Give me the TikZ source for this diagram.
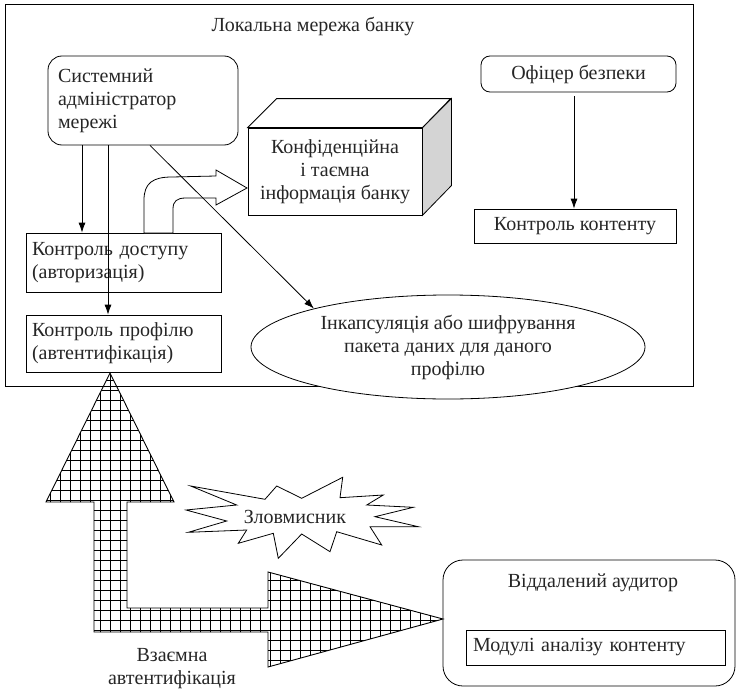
\documentclass[tikz,border=0pt]{standalone}
\usepackage{fontspec}
\setmainfont{Liberation Serif}
\usetikzlibrary{arrows.meta,shapes.geometric}
\begin{document}
\begin{tikzpicture}[x=1pt,y=-1pt,
  every node/.style={font=\fontsize{20}{23}\selectfont, inner sep=0pt, text=black!85},
  box/.style={draw, line width=0.8pt, rectangle},
  rbox/.style={box, rounded corners=14pt},
  arr/.style={line width=0.8pt, -{Latex[length=10pt,width=7pt]}},
  outline/.style={line width=0.8pt},
]
\useasboundingbox (0,0) rectangle (736,693);

% outer LAN box
\node[box, minimum width=688pt, minimum height=382pt] (lan) at (349,195) {};
\node (lantitle) at (313,27) {Локальна мережа банку};

% boxes
\node[rbox, minimum width=190pt, minimum height=89pt, text width=170pt, align=left] (sys) at (143,100.5) {Системний\\адміністратор\\мережі};
\node[rbox, rounded corners=9pt, minimum width=195pt, minimum height=36pt] (off) at (578.5,74) {Офіцер безпеки};
\node[box, minimum width=202pt, minimum height=34pt] (cont) at (575,226) {Контроль контенту};
\node[box, minimum width=195pt, minimum height=59pt, text width=183pt, align=left] (acc) at (123.5,262.5) {Контроль доступу\\(авторизація)};
\node[box, minimum width=195pt, minimum height=57pt, text width=183pt, align=left] (prof) at (123.5,343.5) {Контроль профілю\\(автентифікація)};

% cube
\node[box, minimum width=174pt, minimum height=87pt, align=center] (info) at (335,171.5) {Конфіденційна\\і таємна\\інформація банку};
\draw[outline, fill=black!17] (info.north east) -- ++(29,-29) -- ++(0,87) -- (info.south east) -- cycle;
\draw[outline, fill=white] (info.north west) -- ++(29,-29) -- ++(174,0) -- (info.north east) -- cycle;

% curved block arrow from access control to the info
\draw[outline, fill=white] (144,233) -- (144,200) .. controls (144,183) and (153,177) .. (172,177)
  -- (216,176) -- (216,170) -- (247,188) -- (216,205) -- (216,198) -- (186,198)
  .. controls (177,198) and (173,201) .. (173,209) -- (173,233) -- cycle;

% ellipse
\node[ellipse, draw, line width=0.8pt, fill=white, minimum width=394pt, minimum height=104pt, align=center] (enc) at (448,347) {Інкапсуляція або шифрування\\пакета даних для даного\\профілю};

% connectors
\draw[arr] (sys.south -| 82,0) -- (acc.north -| 82,0);
\draw[arr] (sys.south -| 108,0) -- (prof.north -| 108,0);
\draw[arr] (sys.south -| 150,0) -- (enc.164);
\draw[arr, shorten <=4pt] (off.south -| 574,0) -- (cont.north -| 574,0);

% big hatched double arrow
\begin{scope}
\clip (110,373) -- (174,502) -- (127,502) -- (127,608) -- (268,608) -- (268,572) -- (443,619)
  -- (268,667) -- (268,632) -- (94,632) -- (94,502) -- (46,502) -- cycle;
\draw[step=10pt, line width=0.6pt] (40,680) grid (450,370);
\end{scope}
\draw[line width=0.9pt] (110,373) -- (174,502) -- (127,502) -- (127,608) -- (268,608) -- (268,572) -- (443,619)
  -- (268,667) -- (268,632) -- (94,632) -- (94,502) -- (46,502) -- cycle;

% star (attacker)
\draw[outline, fill=white] (190.7,486) -- (265,499.3) -- (276.7,486) -- (301.7,498.3) -- (342.7,477.3)
  -- (340,497.7) -- (383.3,495) -- (366.7,505) -- (413.3,507.3) -- (375,516.7) -- (418.3,526.7)
  -- (370,526.7) -- (381.7,545) -- (336.7,531.7) -- (330,551.7) -- (301.7,534) -- (278.3,558.3)
  -- (273.3,533.3) -- (238.3,543.3) -- (246.7,530) -- (188.3,532.3) -- (226.7,521) -- (186,510)
  -- (236.7,505) -- cycle;
\node (evil) at (295,517) {Зловмисник};

\node[align=center] (mutual) at (172,669) {Взаємна\\автентифікація};

% remote auditor
\node[box, rounded corners=20pt, minimum width=292pt, minimum height=126pt] (aud) at (589,623) {};
\node (audtitle) at (593,583) {Віддалений аудитор};
\node[box, minimum width=259pt, minimum height=35pt, text width=245pt, align=left] (mod) at (595.5,647.5) {Модулі аналізу контенту};
\end{tikzpicture}
\end{document}
